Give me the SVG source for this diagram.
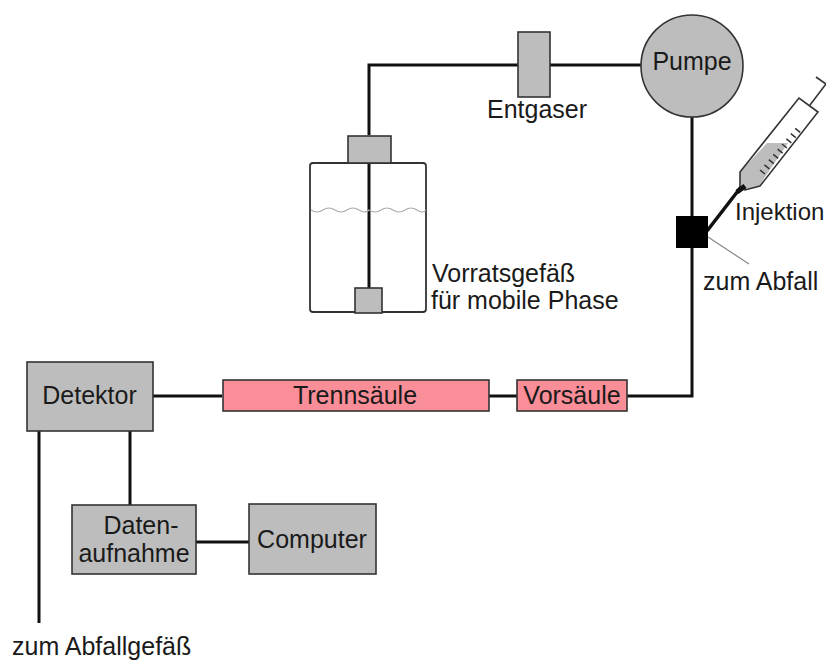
<svg xmlns="http://www.w3.org/2000/svg" width="826" height="661" viewBox="0 0 826 661">
<style>
text{font-family:"Liberation Sans",Arial,sans-serif;font-size:25px;fill:#1a1a1a}
.c{stroke:#111;stroke-width:3;fill:none}
.b{fill:#bdbdbd;stroke:#333;stroke-width:1.6}
.r{fill:#f98d98;stroke:#333;stroke-width:1.6}
.m{text-anchor:middle}
.t{stroke:#333;stroke-width:1.6;fill:none}
</style>
<rect width="826" height="661" fill="#fff"/>
<g id="connectors">
<path class="c" d="M369 135V65H518M550 65H641"/>
<path class="c" d="M692 116V396H627"/>
<path class="c" d="M517 396H489M222 396H153"/>
<path class="c" d="M369 163V288"/>
<path class="c" d="M130 431V505M196 542H249M39 431V623"/>
<path d="M707 231 L741 187" stroke="#111" stroke-width="3.5" fill="none"/>
<path d="M708 237 L749 264" stroke="#888" stroke-width="1.2" fill="none"/>
</g>
<g id="entgaser"><rect class="b" x="518" y="32" width="32" height="65"/><text class="m" x="537" y="118">Entgaser</text></g>
<g id="pumpe"><circle class="b" cx="692" cy="66" r="51"/><text class="m" x="692" y="70">Pumpe</text></g>
<g id="spritze">
<path d="M740 172 L767 143 L788 143 L759 186 L745 190 L740 187 Z" fill="#bdbdbd"/>
<path class="t" d="M740 172L799 98L818 112L760 186L745 190L740 187ZM810 105L826 84L816 77"/>
<path d="M737 192L745 186" stroke="#111" stroke-width="5"/>
<path d="M760 170l5 4M764.400 164.800l5 4M768.800 159.600l5 4M773.200 154.400l5 4M777.600 149.200l5 4M782 144l5 4M786.400 138.800l5 4M790.800 133.600l5 4M795.200 128.400l5 4" stroke="#333" stroke-width="1.5" fill="none"/>
<text x="735" y="220" style="font-size:24px">Injektion</text>
</g>
<g id="injektionsventil"><rect x="676" y="216" width="32" height="32" fill="#000"/><text x="703" y="290">zum Abfall</text></g>
<g id="vorratsgefaess">
<rect x="310" y="163" width="116" height="149" rx="3" fill="none" stroke="#333" stroke-width="1.8"/>
<path d="M311 210q6 4 12 0t12 0 12 0 12 0 10 0q6 4 12 0t12 0 12 0 12 0 9 0" fill="none" stroke="#aaa" stroke-width="1.2"/>
<rect class="b" x="348" y="136" width="43" height="27"/>
<rect class="b" x="355" y="288" width="27" height="25"/>
<text x="432" y="282">Vorratsgefäß</text><text x="431" y="309">für mobile Phase</text>
</g>
<g id="detektor"><rect class="b" x="27" y="362" width="126" height="69"/><text class="m" x="89.500" y="404">Detektor</text></g>
<g id="trennsaeule"><rect class="r" x="223" y="380" width="266" height="31"/><text class="m" x="355" y="404">Trennsäule</text></g>
<g id="vorsaeule"><rect class="r" x="517" y="380" width="110" height="31"/><text class="m" x="572" y="404">Vorsäule</text></g>
<g id="datenaufnahme"><rect class="b" x="72" y="505" width="124" height="69"/><text class="m" x="141" y="534">Daten-</text><text class="m" x="134" y="562">aufnahme</text></g>
<g id="computer"><rect class="b" x="249" y="504" width="127" height="70"/><text class="m" x="312" y="548">Computer</text></g>
<text id="abfallgefaess" x="12" y="655">zum Abfallgefäß</text>
</svg>
